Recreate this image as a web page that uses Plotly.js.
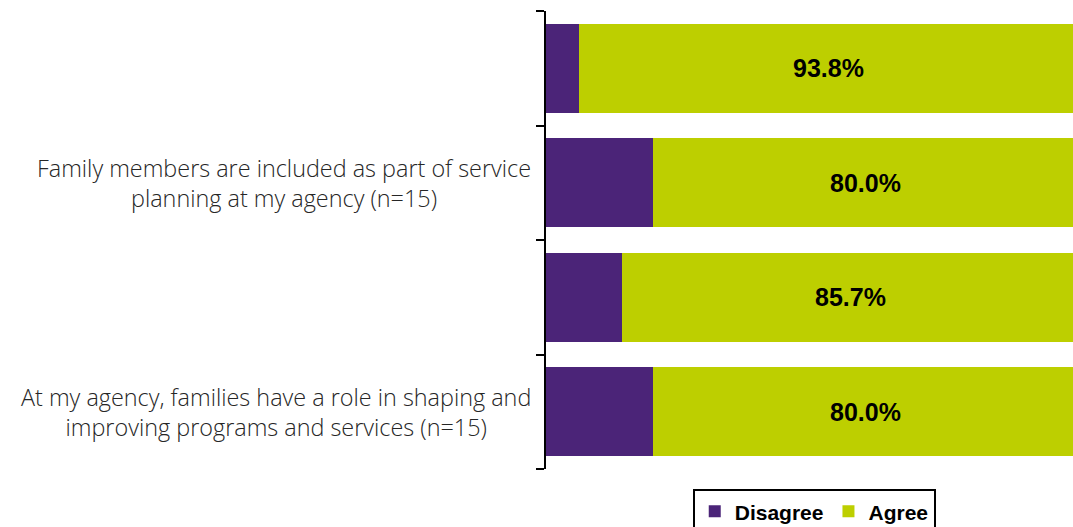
<!DOCTYPE html>
<html>
<head>
<meta charset="utf-8">
<script src="https://cdn.plot.ly/plotly-3.0.1.min.js"></script>
<style>html,body{margin:0;padding:0;background:#fff;}#chart{width:1073px;height:527px;}</style>
</head>
<body>
<div id="chart"></div>
<script>
const categories = ["Q1", "Q2", "Q3", "Q4"];
const tickLabels = [
  "",
  "Family members are included as part of service<br>planning at my agency (n=15)",
  "",
  "At my agency, families have a role in shaping and<br>improving programs and services (n=15)"
];
const disagree = [6.2, 20.0, 14.3, 20.0];
const agree = [93.8, 80.0, 85.7, 80.0];

const purple = "#4B2478";
const green = "#BDCF00";

const traces = [
  {type: "bar", orientation: "h", name: "Disagree", y: categories, x: disagree,
   marker: {color: purple}, hoverinfo: "skip"},
  {type: "bar", orientation: "h", name: "Agree", y: categories, x: agree,
   marker: {color: green}, hoverinfo: "skip"}
];

const valueLabels = categories.map((c, i) => ({
  x: disagree[i] + agree[i] / 2, y: c, xref: "x", yref: "y",
  text: agree[i].toFixed(1) + "%", showarrow: false,
  font: {family: "Liberation Sans, Arial, sans-serif", size: 25, color: "#000", weight: "bold"}
}));

const catLabels = categories.map((c, i) => ({
  x: -0.0247, xref: "paper", xanchor: "right", y: c, yref: "y", yanchor: "middle",
  text: tickLabels[i], showarrow: false, align: "center",
  font: {family: "Open Sans, sans-serif", size: 23.4, color: "#262626", weight: 300}
})).filter(a => a.text !== "");

const layout = {
  width: 1073, height: 527,
  margin: {l: 546, r: 0, t: 11, b: 58, autoexpand: false},
  barmode: "stack",
  bargap: 0.22,
  showlegend: true,
  paper_bgcolor: "#fff", plot_bgcolor: "#fff",
  xaxis: {range: [0, 98.9], visible: false, fixedrange: true},
  yaxis: {
    type: "category", autorange: "reversed",
    tickmode: "array", tickvals: categories, ticktext: categories.map(() => ""),
    tickson: "boundaries", ticks: "outside", ticklen: 8, tickwidth: 2, tickcolor: "#000",
    showline: true, linecolor: "#000", linewidth: 2, showgrid: false, zeroline: false,
    automargin: false
  },
  legend: {
    orientation: "h", traceorder: "normal", x: 0.509, xanchor: "center", y: -0.044, yanchor: "top",
    bordercolor: "#000", borderwidth: 2, bgcolor: "#fff",
    font: {family: "Liberation Sans, Arial, sans-serif", size: 21, color: "#000", weight: "bold"},
    itemclick: false, itemdoubleclick: false
  },
  annotations: valueLabels.concat(catLabels)
};

Plotly.newPlot("chart", traces, layout, {displayModeBar: false, staticPlot: true});
</script>
</body>
</html>
